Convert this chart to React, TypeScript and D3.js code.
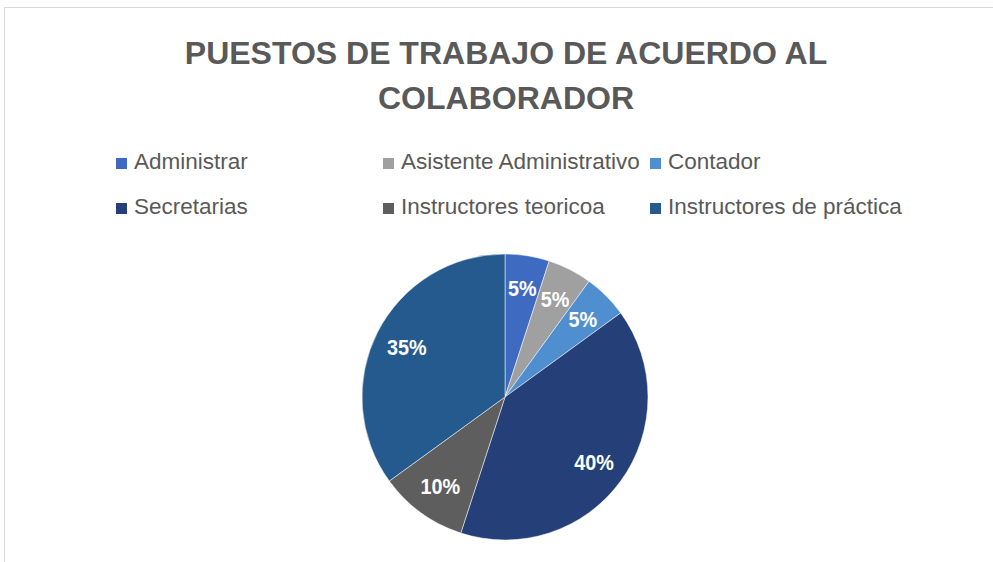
import React from "react";
import * as d3 from "d3";

const categories = [
  "Administrar",
  "Asistente Administrativo",
  "Contador",
  "Secretarias",
  "Instructores teoricoa",
  "Instructores de práctica",
];
const values = [5, 5, 5, 40, 10, 35];
const labels = ["5%", "5%", "5%", "40%", "10%", "35%"];
const colors = ["#3E6BC1", "#A0A0A0", "#4F8FD0", "#253F79", "#5E5E5E", "#245A8E"];
const titleLines = ["PUESTOS DE TRABAJO DE ACUERDO AL", "COLABORADOR"];

const W = 993;
const H = 562;

export default function App() {
  const cx = 505;
  const cy = 397;
  const r = 143;
  const pie = d3.pie<number>().sort(null).value((d) => d);
  const arcs = pie(values);
  const arc = d3.arc<d3.PieArcDatum<number>>().innerRadius(0).outerRadius(r);
  const labelArc = d3
    .arc<d3.PieArcDatum<number>>()
    .innerRadius(r * 0.77)
    .outerRadius(r * 0.77);

  const legendX = d3.scalePoint<number>().domain([0, 1, 2]).range([116, 650]);
  const legendY = d3.scalePoint<number>().domain([0, 1]).range([169, 214]);

  return (
    <svg
      width={W}
      height={H}
      style={{ position: "absolute", left: 0, top: 0, background: "#fff" }}
      fontFamily="'Liberation Sans', Arial, sans-serif"
    >
      <rect x={4.5} y={7.5} width={1100} height={700} fill="#fff" stroke="#d9d9d9" />
      {titleLines.map((t, i) => (
        <text
          key={i}
          x={506}
          y={64 + i * 45}
          textAnchor="middle"
          fontSize={32}
          fontWeight="bold"
          fill="#595959"
        >
          {t}
        </text>
      ))}
      {categories.map((c, i) => {
        const col = i % 3;
        const row = Math.floor(i / 3);
        const x = legendX(col)!;
        const y = legendY(row)!;
        return (
          <g key={c}>
            <rect x={x} y={y - 11} width={11} height={11} fill={colors[i]} />
            <text x={x + 18} y={y} fontSize={22.5} fill="#595959">
              {c}
            </text>
          </g>
        );
      })}
      <g transform={`translate(${cx},${cy})`}>
        {arcs.map((a, i) => (
          <path
            key={i}
            d={arc(a)!}
            fill={colors[i]}
            stroke="#ffffff"
            strokeOpacity={0.5}
            strokeWidth={1}
          />
        ))}
        {arcs.map((a, i) => {
          const [lx, ly] = labelArc.centroid(a);
          return (
            <text
              key={i}
              transform={`translate(${lx},${ly}) scale(0.9,1)`}
              textAnchor="middle"
              dominantBaseline="central"
              fontSize={22}
              fontWeight="bold"
              fill="#ffffff"
            >
              {labels[i]}
            </text>
          );
        })}
      </g>
    </svg>
  );
}
